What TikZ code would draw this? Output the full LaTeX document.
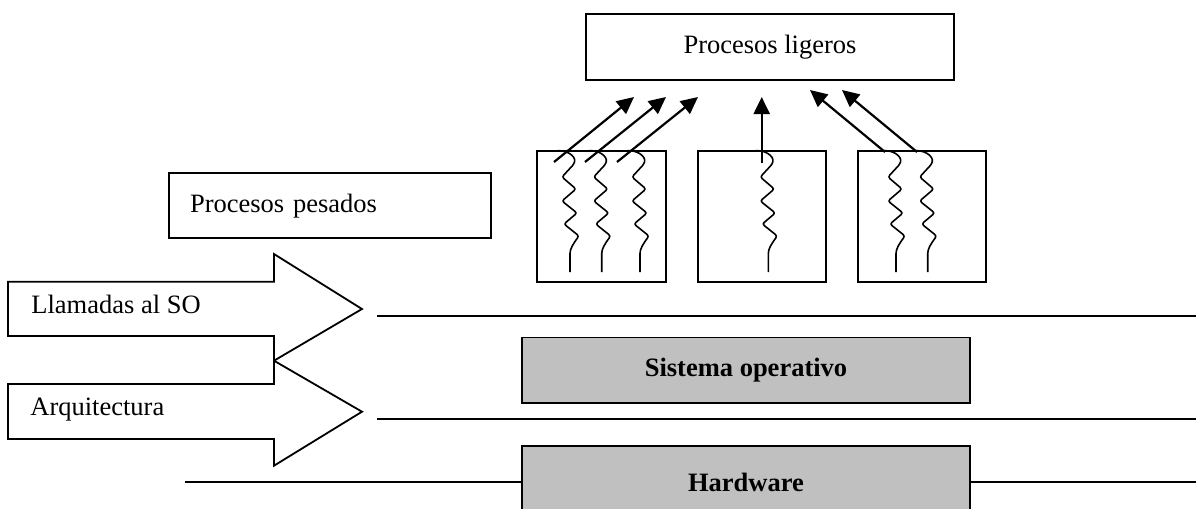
\documentclass[tikz,border=0pt]{standalone}
\usepackage{fontspec}
\setmainfont{Liberation Serif}
\usetikzlibrary{arrows.meta}
\definecolor{gris}{RGB}{192,192,192}

% one wavy thread, #1 = x of its lower end
\newcommand{\hilo}[1]{%
  \draw [line width=0.8pt, rounded corners=1.2pt] (#1-15,151) .. controls (#1-4,149) and (#1+6,156) .. (#1+4,164)
    -- (#1-8,177) -- (#1+6,189) -- (#1-8,201) -- (#1+7,213) -- (#1-6,224) -- (#1+9,236)
    .. controls (#1+3,244) and (#1,249) .. (#1,256) -- (#1,272);}

\begin{document}
\begin{tikzpicture}[x=0.5pt,y=-0.5pt,
  every node/.style={font=\fontsize{13.25}{16}\selectfont},
  caja/.style={draw, line width=0.9pt, inner sep=0pt},
  capa/.style={caja, fill=gris, minimum width=224pt, font=\fontsize{13.25}{16}\selectfont\bfseries},
  flecha/.style={-{Triangle[length=8.5pt,width=8pt]}, line width=1.1pt}]
\clip (0,0) rectangle (1196,509);

% procesos
\node [caja, minimum width=184.3pt, minimum height=32.9pt] (ligeros) at (770,47) {Procesos ligeros};
\node [caja, minimum height=32.5pt, text width=139.6pt, inner xsep=10.7pt, align=left] (pesados) at (329.7,205.8) {Procesos pesados};

\draw [line width=0.9pt] (537,150.7) rectangle (666,281.7);
\draw [line width=0.9pt] (697.7,150.7) rectangle (826,281.7);
\draw [line width=0.9pt] (857.7,150.7) rectangle (986,281.7);

\foreach \xb in {570,601.7,640,768.3,896,927.7} {\hilo{\xb}}

% flechas hacia los procesos ligeros
\coordinate (c1) at (554,162); \coordinate (d1) at (634,97);
\coordinate (c2) at (585,162); \coordinate (d2) at (666,97);
\coordinate (c3) at (617,162); \coordinate (d3) at (698,97);
\coordinate (c4) at (761.7,163); \coordinate (d4) at (761.7,97);
\coordinate (c5) at (885,152); \coordinate (d5) at (810,90);
\coordinate (c6) at (917,152); \coordinate (d6) at (842,90);
\foreach \i in {1,...,6} {\draw [flecha] (c\i) -- (d\i);}

% interfaces
\draw [line width=0.9pt] (8,281.7) -- (274,281.7) -- (274,254) -- (362,309) -- (274,360.7) -- (274,336) -- (8,336) -- cycle;
\draw [line width=0.9pt] (8,384) -- (274,384) -- (274,360.7) -- (362,411.7) -- (274,465.7) -- (274,439) -- (8,439) -- cycle;
\node [anchor=base west, inner sep=0pt] (llamadas) at (31,313) {Llamadas al SO};
\node [anchor=base west, inner sep=0pt] (arqui) at (30,415) {Arquitectura};

\draw [line width=1pt] (377,316) -- (1196,316);
\draw [line width=1pt] (377,419) -- (1196,419);
\draw [line width=1pt] (185,482) -- (1196,482);

\node [capa, minimum height=32.6pt] (so) at (746,370) {Sistema operativo};
\node [capa, minimum height=36pt] (hw) at (746,482) {Hardware};

\end{tikzpicture}
\end{document}
